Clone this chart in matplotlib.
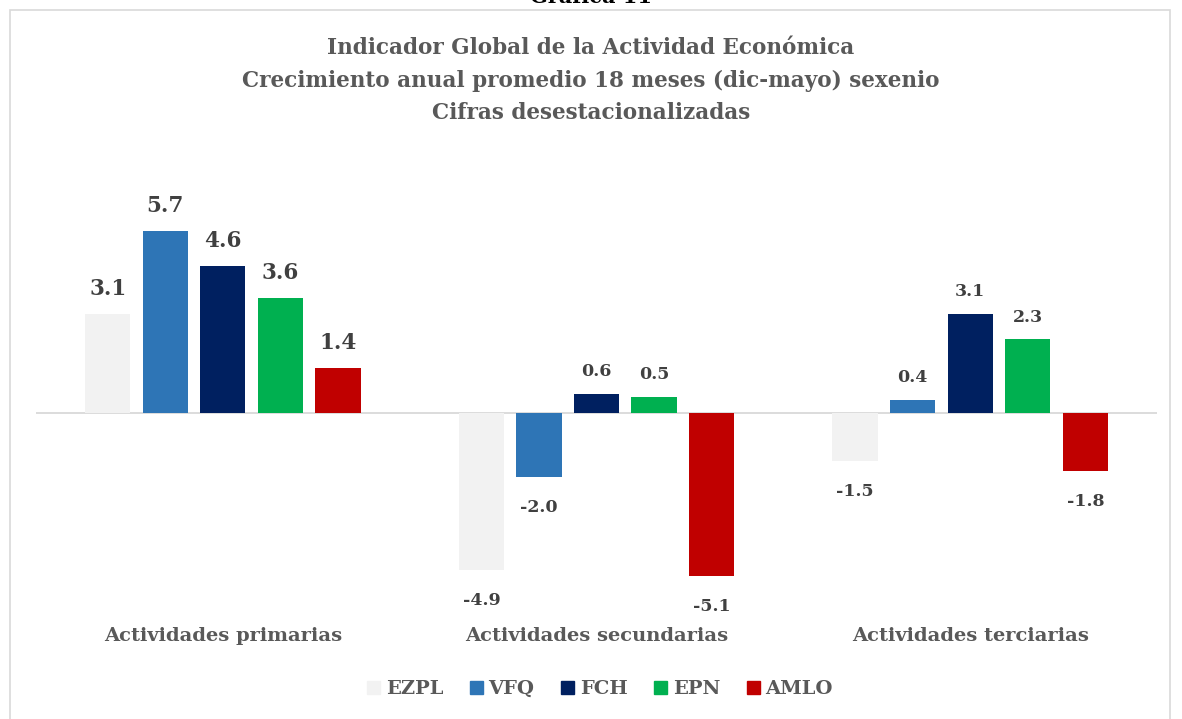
import matplotlib

matplotlib.use("Agg")
import matplotlib.patches as mpatches
import matplotlib.pyplot as plt
import numpy as np

# ---- data ------------------------------------------------------------------
categories = ["Actividades primarias", "Actividades secundarias", "Actividades terciarias"]
series_names = ["EZPL", "VFQ", "FCH", "EPN", "AMLO"]
ezpl = [3.1, -4.9, -1.5]
vfq = [5.7, -2.0, 0.4]
fch = [4.6, 0.6, 3.1]
epn = [3.6, 0.5, 2.3]
amlo = [1.4, -5.1, -1.8]

# ---- style -----------------------------------------------------------------
COLORS = ["#F2F2F2", "#2E75B6", "#002060", "#00B050", "#C00000"]
TITLE_INK = "#595959"
LABEL_INK = "#404040"
GRID = "#D9D9D9"
FONT = "DejaVu Serif"

plt.rcParams["font.family"] = FONT
plt.rcParams["font.weight"] = "bold"

W, H = 1182, 719
fig = plt.figure(figsize=(W / 100, H / 100), dpi=100)
fig.patch.set_facecolor("white")

# axes: zero line at y=413 px, ~32 px per unit
ax = fig.add_axes((36 / W, (H - 598.6) / H, 1121 / W, 396.8 / H))
ax.set_xlim(-0.5, 2.5)
ax.set_ylim(-5.8, 6.6)
for s in ax.spines.values():
    s.set_visible(False)
ax.set_yticks([])

x = np.arange(len(categories))
step = 0.154
width = 0.121
all_series = [ezpl, vfq, fch, epn, amlo]
for i, (name, vals, col) in enumerate(zip(series_names, all_series, COLORS)):
    xs = x + (i - 2) * step
    ax.bar(xs, vals, width, color=col, label=name, zorder=2)
    # value labels -- the primarias group uses a bigger size, as in the source
    for j, (xi, v) in enumerate(zip(xs, vals)):
        up = v >= 0
        ax.annotate(f"{v:.1f}", xy=(xi, v), xytext=(0, 10 if up else -16),
                    textcoords="offset points", ha="center",
                    va="bottom" if up else "top",
                    fontsize=15.5 if j == 0 else 12.5, color=LABEL_INK,
                    fontweight="bold")

ax.axhline(0, color=GRID, lw=1.3, zorder=1)

ax.set_xticks(x)
ax.set_xticklabels(categories, fontsize=14, color=TITLE_INK, fontweight="bold")
ax.tick_params(axis="x", length=0, pad=20.5)

# title, block centred at ~80 px from the top
fig.text(0.5, 1 - 80.5 / H, "Indicador Global de la Actividad Económica\n"
         "Crecimiento anual promedio 18 meses (dic-mayo) sexenio\n"
         "Cifras desestacionalizadas",
         ha="center", va="center", fontsize=15.5, color=TITLE_INK,
         fontweight="bold", linespacing=1.62)

# caption header, cut at the top of the page
fig.text(0.5, 1 - 3 / H, "Gráfica 11", ha="center", va="baseline",
         fontsize=15, color="black", fontweight="bold")

# frame
fig.patches.append(mpatches.Rectangle(
    (10 / W, -0.05), 1160 / W, 1.05 - 10 / H, transform=fig.transFigure,
    fill=False, edgecolor=GRID, lw=1.2))

# legend
handles = [mpatches.Patch(color=c) for c in COLORS]
fig.legend(handles, series_names, loc="center", bbox_to_anchor=(600 / W, 1 - 689 / H),
           ncol=5, frameon=False, fontsize=14, labelcolor=TITLE_INK,
           handlelength=0.67, handleheight=0.67, handletextpad=0.3, columnspacing=1.36)

fig.savefig("out.png", dpi=100, facecolor="white")
